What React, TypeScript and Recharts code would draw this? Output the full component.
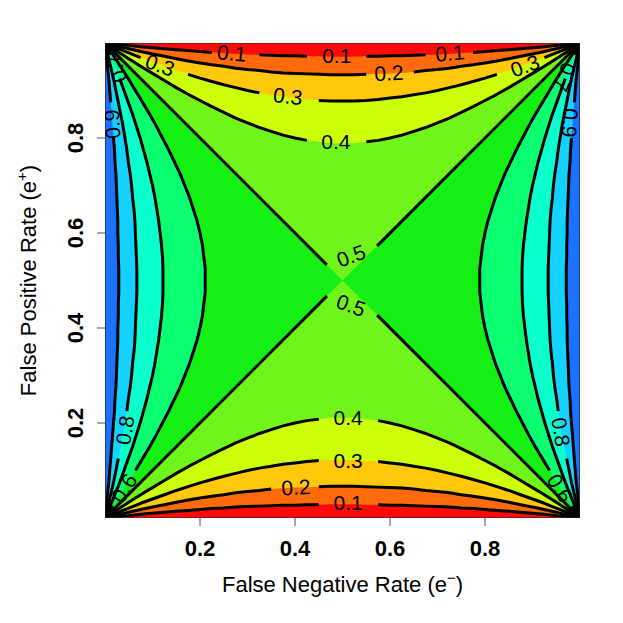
import React from 'react'
import { Area, ComposedChart, Label, Scatter, XAxis, YAxis } from 'recharts'

// position along an edge: x for the top/bottom contours, y for the side ones
const pos = [0, 0.01, 0.025, 0.05, 0.075, 0.1, 0.125, 0.15, 0.175, 0.2, 0.225, 0.25, 0.275, 0.3, 0.325, 0.35, 0.375, 0.4, 0.425, 0.45, 0.475, 0.5]

// how far each contour sits from the bottom (and top) edge, read at pos
const depth01 = [0, 0.001, 0.003, 0.005, 0.008, 0.010, 0.012, 0.014, 0.016, 0.018, 0.020, 0.021, 0.023, 0.024, 0.025, 0.026, 0.027, 0.027, 0.028, 0.028, 0.029, 0.029]
const depth02 = [0, 0.002, 0.006, 0.012, 0.018, 0.023, 0.028, 0.033, 0.038, 0.042, 0.046, 0.049, 0.053, 0.056, 0.058, 0.061, 0.063, 0.064, 0.065, 0.066, 0.067, 0.067]
const depth03 = [0, 0.004, 0.011, 0.021, 0.031, 0.040, 0.049, 0.058, 0.066, 0.074, 0.081, 0.088, 0.094, 0.100, 0.105, 0.109, 0.113, 0.116, 0.119, 0.121, 0.122, 0.122]
const depth04 = [0, 0.007, 0.017, 0.033, 0.049, 0.064, 0.079, 0.094, 0.108, 0.121, 0.134, 0.146, 0.158, 0.168, 0.178, 0.186, 0.194, 0.200, 0.205, 0.208, 0.211, 0.211]

// how far each contour sits from the left (and right) edge, read at pos
const side06 = [0, 0.007, 0.017, 0.033, 0.049, 0.064, 0.079, 0.094, 0.108, 0.121, 0.134, 0.146, 0.158, 0.168, 0.178, 0.186, 0.194, 0.200, 0.205, 0.208, 0.211, 0.211]
const side07 = [0, 0.004, 0.011, 0.021, 0.031, 0.040, 0.049, 0.058, 0.066, 0.074, 0.081, 0.088, 0.094, 0.100, 0.105, 0.109, 0.113, 0.116, 0.119, 0.121, 0.122, 0.122]
const side08 = [0, 0.002, 0.006, 0.012, 0.018, 0.023, 0.028, 0.033, 0.038, 0.042, 0.046, 0.049, 0.053, 0.056, 0.058, 0.061, 0.063, 0.064, 0.065, 0.066, 0.067, 0.067]
const side09 = [0, 0.001, 0.003, 0.005, 0.008, 0.010, 0.012, 0.014, 0.016, 0.018, 0.020, 0.021, 0.023, 0.024, 0.025, 0.026, 0.027, 0.027, 0.028, 0.028, 0.029, 0.029]

// band colours from 0-0.1 up to 0.9-1
const bandColors = ['#FF0A0A', '#FF6A0A', '#FFC80A', '#CCFF0A', '#70F51A', '#14F014', '#0AFF70', '#0AFFCC', '#14D2FF', '#1A72FF']

const xTicks = [0.2, 0.4, 0.6, 0.8]
const yTicks = [0.2, 0.4, 0.6, 0.8]

// contour labels
const labelText = ['0.1', '0.1', '0.1', '0.2', '0.3', '0.3', '0.3', '0.4', '0.4', '0.3', '0.2', '0.1', '0.5', '0.5', '0.9', '0.7', '0.8', '0.6', '0.9', '0.7', '0.8', '0.6']
const labelX = [0.267, 0.488, 0.726, 0.598, 0.116, 0.385, 0.884, 0.486, 0.512, 0.512, 0.402, 0.512, 0.518, 0.518, 0.015, 0.023, 0.042, 0.040, 0.979, 0.968, 0.960, 0.958]
const labelY = [0.979, 0.973, 0.979, 0.937, 0.954, 0.888, 0.952, 0.792, 0.211, 0.122, 0.065, 0.032, 0.552, 0.448, 0.829, 0.947, 0.185, 0.063, 0.832, 0.928, 0.181, 0.063]
const labelAngle = [5, 0, -5, -3, 20, 6, -20, 0, 0, 0, -3, 0, -20, 20, -94, -110, -81, -58, 94, 110, 81, 58]

// where the contour lines are broken for their labels
const gapsBottom01 = [[0.45, 0.575]]
const gapsBottom02 = [[0.35, 0.45]]
const gapsBottom03 = [[0.45, 0.575]]
const gapsBottom04 = [[0.45, 0.575]]
const gapsTop01 = [[0.225, 0.325], [0.425, 0.55], [0.675, 0.775]]
const gapsTop02 = [[0.55, 0.65]]
const gapsTop03 = [[0.075, 0.175], [0.325, 0.45], [0.825, 0.925]]
const gapsTop04 = [[0.425, 0.55]]
const gapsSide06 = [[0.025, 0.1]]
const gapsSide07 = [[0.925, 0.975]]
const gapsSide08 = [[0.125, 0.225]]
const gapsSide09 = [[0.8, 0.875]]

// the two 0.5 diagonals, broken at the centre
const diagA1 = [{ x: 0, y: 0 }, { x: 0.467, y: 0.467 }]
const diagA2 = [{ x: 0.573, y: 0.573 }, { x: 1, y: 1 }]
const diagB1 = [{ x: 0, y: 1 }, { x: 0.467, y: 0.533 }]
const diagB2 = [{ x: 0.573, y: 0.427 }, { x: 1, y: 0 }]

const boxPts = [{ x: 0, y: 0 }, { x: 1, y: 0 }, { x: 1, y: 1 }, { x: 0, y: 1 }, { x: 0, y: 0 }]

const FONT = '"Liberation Sans", Arial, Helvetica, sans-serif'

type Pt = { x: number; y: number }

const fullPos = [...pos, ...pos.slice(0, -1).reverse().map((p) => 1 - p)]
const mirror = (d: number[]) => [...d, ...d.slice(0, -1).reverse()]

const cut = (pts: Pt[], gaps: number[][], key: 'x' | 'y'): Pt[][] => {
    const inGap = (v: number) => gaps.some(([a, b]) => v > a + 1e-6 && v < b - 1e-6)
    const segs: Pt[][] = []
    let cur: Pt[] = []
    pts.forEach((p, i) => {
        if (i > 0 && inGap((pts[i - 1][key] + p[key]) / 2)) {
            if (cur.length > 1) segs.push(cur)
            cur = []
        }
        if (!inGap(p[key])) cur.push(p)
    })
    if (cur.length > 1) segs.push(cur)
    return segs
}

const bottomCurve = (d: number[]) => { const m = mirror(d); return fullPos.map((x, i) => ({ x, y: m[i] })) }
const topCurve = (d: number[]) => { const m = mirror(d); return fullPos.map((x, i) => ({ x, y: 1 - m[i] })) }
const leftCurve = (s: number[]) => { const m = mirror(s); return fullPos.map((y, i) => ({ x: m[i], y })) }
const rightCurve = (s: number[]) => { const m = mirror(s); return fullPos.map((y, i) => ({ x: 1 - m[i], y })) }

const segments: Pt[][] = [
    ...cut(bottomCurve(depth01), gapsBottom01, 'x'),
    ...cut(bottomCurve(depth02), gapsBottom02, 'x'),
    ...cut(bottomCurve(depth03), gapsBottom03, 'x'),
    ...cut(bottomCurve(depth04), gapsBottom04, 'x'),
    ...cut(topCurve(depth01), gapsTop01, 'x'),
    ...cut(topCurve(depth02), gapsTop02, 'x'),
    ...cut(topCurve(depth03), gapsTop03, 'x'),
    ...cut(topCurve(depth04), gapsTop04, 'x'),
    ...cut(leftCurve(side06), gapsSide06, 'y'),
    ...cut(leftCurve(side07), gapsSide07, 'y'),
    ...cut(leftCurve(side08), gapsSide08, 'y'),
    ...cut(leftCurve(side09), gapsSide09, 'y'),
    ...cut(rightCurve(side06), gapsSide06, 'y'),
    ...cut(rightCurve(side07), gapsSide07, 'y'),
    ...cut(rightCurve(side08), gapsSide08, 'y'),
    ...cut(rightCurve(side09), gapsSide09, 'y'),
    diagA1, diagA2, diagB1, diagB2,
]

// filled bands, painted from the middle outwards
const bottomFill = (d: number[]) => { const m = mirror(d); return fullPos.map((x, i) => ({ x, r: [0, m[i]] })) }
const topFill = (d: number[]) => { const m = mirror(d); return fullPos.map((x, i) => ({ x, r: [1 - m[i], 1] })) }
const leftFill = (s: number[]) => pos.map((p, i) => ({ x: s[i], r: [p, 1 - p] }))
const rightFill = (s: number[]) => pos.map((p, i) => ({ x: 1 - s[i], r: [p, 1 - p] })).reverse()

const fills = [
    { data: [{ x: 0, r: [0, 1] }, { x: 1, r: [0, 1] }], color: bandColors[4] },
    { data: bottomFill(depth04), color: bandColors[3] },
    { data: topFill(depth04), color: bandColors[3] },
    { data: bottomFill(depth03), color: bandColors[2] },
    { data: topFill(depth03), color: bandColors[2] },
    { data: bottomFill(depth02), color: bandColors[1] },
    { data: topFill(depth02), color: bandColors[1] },
    { data: bottomFill(depth01), color: bandColors[0] },
    { data: topFill(depth01), color: bandColors[0] },
    { data: [{ x: 0, r: [0, 1] }, { x: 0.5, r: [0.5, 0.5] }, { x: 1, r: [0, 1] }], color: bandColors[5] },
    { data: leftFill(side06), color: bandColors[6] },
    { data: rightFill(side06), color: bandColors[6] },
    { data: leftFill(side07), color: bandColors[7] },
    { data: rightFill(side07), color: bandColors[7] },
    { data: leftFill(side08), color: bandColors[8] },
    { data: rightFill(side08), color: bandColors[8] },
    { data: leftFill(side09), color: bandColors[9] },
    { data: rightFill(side09), color: bandColors[9] },
]

const labels = labelText.map((text, i) => ({ x: labelX[i], y: labelY[i], text, angle: labelAngle[i] }))

const XTick = (p: any) => (
    <text x={p.x} y={p.y + 28} textAnchor="middle" fontFamily={FONT} fontSize={22} fontWeight="bold" fill="#000">
        {p.payload.value}
    </text>
)

const YTick = (p: any) => {
    const x = p.x - 12
    return (
        <text x={x} y={p.y} transform={`rotate(-90 ${x} ${p.y})`} textAnchor="middle" fontFamily={FONT} fontSize={22} fontWeight="bold" fill="#000">
            {p.payload.value}
        </text>
    )
}

const XTitle = (p: any) => {
    const { x, y, width } = p.viewBox
    return (
        <text x={x + width / 2} y={y + 74} textAnchor="middle" fontFamily={FONT} fontSize={22} fill="#000">
            False Negative Rate (e<tspan dy={-9} fontSize={15}>−</tspan><tspan dy={9}>)</tspan>
        </text>
    )
}

const YTitle = (p: any) => {
    const { x, y, height } = p.viewBox
    const cx = x + 36
    const cy = y + height / 2
    return (
        <text x={cx} y={cy} transform={`rotate(-90 ${cx} ${cy})`} textAnchor="middle" fontFamily={FONT} fontSize={22} fill="#000">
            False Positive Rate (e<tspan dy={-9} fontSize={15}>+</tspan><tspan dy={9}>)</tspan>
        </text>
    )
}

const ContourLabel = (p: any) => (
    <text
        x={p.cx}
        y={p.cy}
        transform={`rotate(${p.payload.angle} ${p.cx} ${p.cy})`}
        textAnchor="middle"
        dominantBaseline="central"
        fontFamily={FONT}
        fontSize={21}
        fill="#000"
    >
        {p.payload.text}
    </text>
)

export default function App() {
    return (
        <div style={{ position: 'absolute', left: 0, top: 0, width: 623, height: 623, background: '#fff' }}>
            <ComposedChart width={623} height={623} margin={{ top: 43, right: 43, bottom: 0, left: 0 }}>
                <XAxis
                    type="number"
                    dataKey="x"
                    domain={[0, 1]}
                    allowDataOverflow
                    ticks={xTicks}
                    interval={0}
                    height={105}
                    axisLine={false}
                    tickSize={8}
                    tickLine={{ stroke: '#555' }}
                    tick={(p: any) => <XTick {...p} />}
                >
                    <Label content={XTitle} />
                </XAxis>
                <YAxis
                    type="number"
                    dataKey="y"
                    domain={[0, 1]}
                    allowDataOverflow
                    ticks={yTicks}
                    interval={0}
                    width={105}
                    axisLine={false}
                    tickSize={8}
                    tickLine={{ stroke: '#555' }}
                    tick={(p: any) => <YTick {...p} />}
                >
                    <Label content={YTitle} />
                </YAxis>
                {fills.map((f, i) => (
                    <Area
                        key={`fill-${i}`}
                        data={f.data}
                        dataKey="r"
                        type="linear"
                        stroke="none"
                        fill={f.color}
                        fillOpacity={1}
                        dot={false}
                        activeDot={false}
                        legendType="none"
                        isAnimationActive={false}
                    />
                ))}
                {segments.map((seg, i) => (
                    <Scatter
                        key={`line-${i}`}
                        data={seg}
                        line={{ stroke: '#000', strokeWidth: 3, strokeLinejoin: 'round' }}
                        lineType="joint"
                        shape={() => <g />}
                        legendType="none"
                        isAnimationActive={false}
                    />
                ))}
                <Scatter
                    data={boxPts}
                    line={{ stroke: '#222', strokeWidth: 1.2 }}
                    lineType="joint"
                    shape={() => <g />}
                    legendType="none"
                    isAnimationActive={false}
                />
                <Scatter data={labels} shape={ContourLabel} legendType="none" isAnimationActive={false} />
            </ComposedChart>
        </div>
    )
}
